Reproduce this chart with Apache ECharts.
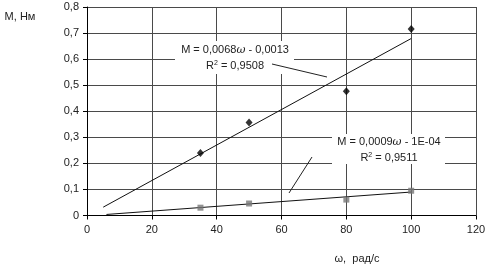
<!DOCTYPE html>
<html><head><meta charset="utf-8">
<script src="https://cdn.jsdelivr.net/npm/echarts@6/dist/echarts.min.js"></script>
<style>html,body{margin:0;padding:0;background:#fff}#c{width:490px;height:268px}</style>
</head><body><div id="c"></div>
<script>
// Data
const omega = [35, 50, 80, 100];
const torque1 = [0.24, 0.357, 0.477, 0.716];   // diamonds
const torque2 = [0.03, 0.046, 0.061, 0.095];   // squares
const trend1 = [[5, 0.032], [100, 0.679]];      // M = 0,0068ω - 0,0013
const trend2 = [[6, 0.004], [100, 0.090]];      // M = 0,0009ω - 1E-04
const xTicks = [0, 20, 40, 60, 80, 100, 120];
const yTicks = [0, 0.1, 0.2, 0.3, 0.4, 0.5, 0.6, 0.7, 0.8];
const eq1 = ['M = 0,0068', 'ω', ' - 0,0013'];
const r1 = '0,9508';
const eq2 = ['M = 0,0009', 'ω', ' - 1E-04'];
const r2 = '0,9511';
const yTitle = 'M, Нм';
const xTitle = 'ω,  рад/с';

const FONT = 'Liberation Sans, Arial, sans-serif';
const TXT = '#222';
const chart = echarts.init(document.getElementById('c'), null, {renderer: 'canvas'});

function pairs(xs, ys) { return xs.map((x, i) => [x, ys[i]]); }

function eqText(eq, r, cx, y) {
  return [
    {type: 'text', x: cx, y: y, z: 20, style: {
      text: '{a|' + eq[0] + '}{w|' + eq[1] + '}{a|' + eq[2] + '}',
      align: 'center', verticalAlign: 'middle',
      rich: {a: {fontFamily: FONT, fontSize: 11, fill: TXT},
             w: {fontFamily: 'DejaVu Serif, serif', fontStyle: 'italic', fontSize: 11, fill: TXT}}
    }},
    {type: 'text', x: cx, y: y + 16, z: 20, style: {
      text: '{a|R}{s|2}{a| = ' + r + '}',
      align: 'center', verticalAlign: 'middle',
      rich: {a: {fontFamily: FONT, fontSize: 11, fill: TXT},
             s: {fontFamily: FONT, fontSize: 7, fill: TXT, verticalAlign: 'top', padding: [0, 0, 6, 0]}}
    }}
  ];
}

const option = {
  backgroundColor: '#fff',
  animation: false,
  grid: {left: 87, right: 14, top: 7, bottom: 52.5, show: false},
  xAxis: {
    type: 'value', min: xTicks[0], max: xTicks[xTicks.length - 1], interval: 20,
    axisLine: {show: true, onZero: false, lineStyle: {color: '#000', width: 1}},
    axisTick: {show: true, inside: false, length: 4, lineStyle: {color: '#000'}},
    axisLabel: {margin: 9, fontFamily: FONT, fontSize: 11, color: TXT},
    splitLine: {show: true, lineStyle: {color: '#4a4a4a', width: 1}}
  },
  yAxis: {
    type: 'value', min: yTicks[0], max: yTicks[yTicks.length - 1], interval: 0.1,
    axisLine: {show: true, onZero: false, lineStyle: {color: '#000', width: 1}},
    axisTick: {show: true, inside: false, length: 4, lineStyle: {color: '#000'}},
    axisLabel: {margin: 8, fontFamily: FONT, fontSize: 11, color: TXT,
      formatter: v => String(Math.round(v * 10) / 10).replace('.', ',')},
    splitLine: {show: true, lineStyle: {color: '#4a4a4a', width: 1}}
  },
  series: [
    {type: 'line', data: trend1, symbol: 'none', lineStyle: {color: '#111', width: 1}, z: 3},
    {type: 'line', data: trend2, symbol: 'none', lineStyle: {color: '#111', width: 1}, z: 3},
    {type: 'scatter', data: pairs(omega, torque1), symbol: 'diamond', symbolSize: [7, 8],
     itemStyle: {color: '#000'}, z: 5},
    {type: 'scatter', data: pairs(omega, torque2), symbol: 'rect', symbolSize: 6,
     itemStyle: {color: '#777'}, z: 5}
  ],
  graphic: [
    {type: 'rect', z: 15, shape: {x: 175, y: 41, width: 119, height: 33}, style: {fill: '#fff'}},
    {type: 'rect', z: 15, shape: {x: 332, y: 134, width: 113, height: 30}, style: {fill: '#fff'}},
    ...eqText(eq1, r1, 235, 50),
    ...eqText(eq2, r2, 389, 142),
    {type: 'line', z: 20, shape: {x1: 272, y1: 64, x2: 327, y2: 77}, style: {stroke: '#222', lineWidth: 1}},
    {type: 'line', z: 20, shape: {x1: 312, y1: 157, x2: 289, y2: 193}, style: {stroke: '#222', lineWidth: 1}},
    {type: 'text', x: 20, y: 17, style: {text: yTitle, align: 'center', verticalAlign: 'middle',
      fontFamily: FONT, fontSize: 11, fill: TXT}},
    {type: 'text', x: 357, y: 259, style: {text: xTitle, align: 'center', verticalAlign: 'middle',
      fontFamily: FONT, fontSize: 11, fill: TXT}}
  ]
};
chart.setOption(option);
</script></body></html>
